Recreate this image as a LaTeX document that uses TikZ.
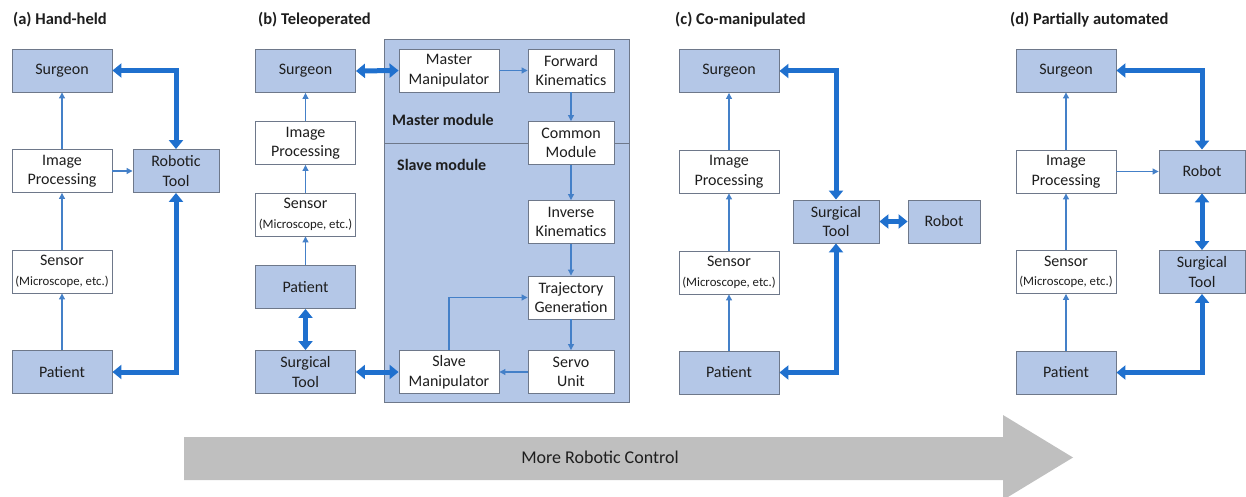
\documentclass[tikz,border=0pt]{standalone}
\usepackage{fontspec}
\setmainfont{Carlito}
\usetikzlibrary{arrows.meta}
\definecolor{boxblue}{RGB}{180,199,231}
\definecolor{boxline}{RGB}{110,120,138}
\definecolor{thickblue}{RGB}{31,112,206}
\definecolor{thinblue}{RGB}{68,128,200}
\definecolor{arrowgray}{RGB}{191,191,191}
\definecolor{txt}{RGB}{30,30,30}
\begin{document}
\begin{tikzpicture}[x=1pt,y=-1pt,
 box/.style={draw=boxline, line width=0.9pt, fill=boxblue, minimum height=43pt, inner sep=0pt, align=center, text=txt, font=\fontsize{16}{19.5}\selectfont},
 wbox/.style={box, fill=white},
 wide/.style={minimum width=100pt},
 narrow/.style={minimum width=86pt},
 bigarrow/.style={draw=thickblue, line width=5pt, {Triangle[length=9pt,width=14pt]}-{Triangle[length=9pt,width=14pt]}},
 smallarrow/.style={draw=thinblue, line width=1.1pt, -{Triangle[length=6pt,width=6pt]}},
 titletext/.style={font=\fontsize{16.5}{19}\selectfont\bfseries, anchor=west, inner sep=0pt, text=txt},
 modlabel/.style={font=\fontsize{16}{19}\selectfont\bfseries, anchor=west, inner sep=0pt, text=txt}]
\useasboundingbox (0,0) rectangle (1246,497);
\newcommand{\sensortext}{Sensor\\[0pt]{\fontsize{12.8}{15}\selectfont (Microscope, etc.)}}

% gray arrow
\fill[arrowgray] (184,437) -- (1003,437) -- (1003,415) -- (1073,457.5) -- (1003,500) -- (1003,480) -- (184,480) -- cycle;
\node[font=\fontsize{18}{21}\selectfont, text=txt] (more) at (600,457) {More Robotic Control};

% titles
\node[titletext] (ta) at (13,20) {(a) Hand-held};
\node[titletext] (tb) at (258,20) {(b) Teleoperated};
\node[titletext] (tc) at (675,20) {(c) Co-manipulated};
\node[titletext] (td) at (1010,20) {(d) Partially automated};

% (a)
\node[box,wide] (sa) at (62,70.5) {Surgeon};
\node[wbox,wide] (ipa) at (62,171) {Image\\Processing};
\node[box,narrow] (rta) at (176,171) {Robotic\\Tool};
\node[wbox,wide] (sna) at (62,271.5) {\sensortext};
\node[box,wide] (pa) at (62,372) {Patient};
\draw[bigarrow] (sa.east) -| (rta.north);
\draw[bigarrow] (pa.east) -| (rta.south);
\draw[smallarrow] (pa.north) -- (sna.south);
\draw[smallarrow] (sna.north) -- (ipa.south);
\draw[smallarrow] (ipa.north) -- (sa.south);
\draw[smallarrow] (ipa.east) -- (rta.west);

% (b)
\draw[draw=boxline, line width=0.9pt, fill=boxblue] (384,39) rectangle (629,402);
\draw[draw=boxline, line width=0.9pt] (384,143) -- (629,143);
\node[modlabel] (mml) at (392,120) {Master module};
\node[modlabel] (sml) at (397,165) {Slave module};
\node[box,wide] (sb) at (305.5,71) {Surgeon};
\node[wbox,wide] (ipb) at (305.5,143) {Image\\Processing};
\node[wbox,wide] (snb) at (305.5,214.5) {\sensortext};
\node[box,wide] (pb) at (305.5,287) {Patient};
\node[box,wide] (stb) at (305.5,372) {Surgical\\Tool};
\node[wbox,wide] (mm) at (449,70.5) {Master\\Manipulator};
\node[wbox,narrow] (fk) at (571,70.5) {Forward\\Kinematics};
\node[wbox,narrow] (cm) at (571,143) {Common\\Module};
\node[wbox,narrow] (ik) at (571,222) {Inverse\\Kinematics};
\node[wbox,narrow] (tg) at (571,297.5) {Trajectory\\Generation};
\node[wbox,narrow] (su) at (571,372) {Servo\\Unit};
\node[wbox,wide] (sm) at (449,372) {Slave\\Manipulator};
\draw[bigarrow] (sb.east) -- (mm.west);
\draw[bigarrow] (pb.south) -- (stb.north);
\draw[bigarrow] (stb.east) -- (sm.west);
\draw[smallarrow] (pb.north) -- (snb.south);
\draw[smallarrow] (snb.north) -- (ipb.south);
\draw[smallarrow] (ipb.north) -- (sb.south);
\draw[smallarrow] (mm.east) -- (fk.west);
\draw[smallarrow] (fk.south) -- (cm.north);
\draw[smallarrow] (cm.south) -- (ik.north);
\draw[smallarrow] (ik.south) -- (tg.north);
\draw[smallarrow] (tg.south) -- (su.north);
\draw[smallarrow] (su.west) -- (sm.east);
\draw[smallarrow] (sm.north) |- (tg.west);

% (c)
\node[box,wide] (sc) at (729,71) {Surgeon};
\node[wbox,wide] (ipc) at (729,171.5) {Image\\Processing};
\node[wbox,wide] (snc) at (729,272.5) {\sensortext};
\node[box,wide] (pc) at (729,372.5) {Patient};
\node[box,narrow] (stc) at (836,221.5) {Surgical\\Tool};
\node[box,minimum width=72pt] (rc) at (944,221.5) {Robot};
\draw[bigarrow] (sc.east) -| (stc.north);
\draw[bigarrow] (pc.east) -| (stc.south);
\draw[bigarrow] (stc.east) -- (rc.west);
\draw[smallarrow] (pc.north) -- (snc.south);
\draw[smallarrow] (snc.north) -- (ipc.south);
\draw[smallarrow] (ipc.north) -- (sc.south);

% (d)
\node[box,wide] (sd) at (1066,70.5) {Surgeon};
\node[wbox,wide] (ipd) at (1066,171.5) {Image\\Processing};
\node[wbox,wide] (snd) at (1066,272) {\sensortext};
\node[box,wide] (pd) at (1066,372.5) {Patient};
\node[box,narrow] (rd) at (1202,171.5) {Robot};
\node[box,narrow] (std) at (1202,272) {Surgical\\Tool};
\draw[bigarrow] (sd.east) -| (rd.north);
\draw[bigarrow] (rd.south) -- (std.north);
\draw[bigarrow] (pd.east) -| (std.south);
\draw[smallarrow] (pd.north) -- (snd.south);
\draw[smallarrow] (snd.north) -- (ipd.south);
\draw[smallarrow] (ipd.north) -- (sd.south);
\draw[smallarrow] (ipd.east) -- (rd.west);
\end{tikzpicture}
\end{document}
